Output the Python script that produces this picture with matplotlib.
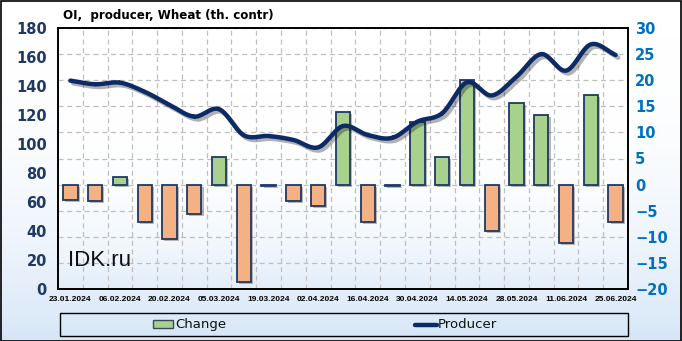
import numpy as np
import matplotlib
matplotlib.use('Agg')
import matplotlib.pyplot as plt
from matplotlib.patches import Rectangle
from matplotlib.lines import Line2D
import matplotlib.patheffects as pe

# Weekly dates (one label every other week)
dates = ['23.01.2024', '30.01.2024', '06.02.2024', '13.02.2024', '20.02.2024',
         '27.02.2024', '05.03.2024', '12.03.2024', '19.03.2024', '26.03.2024',
         '02.04.2024', '09.04.2024', '16.04.2024', '23.04.2024', '30.04.2024',
         '07.05.2024', '14.05.2024', '21.05.2024', '28.05.2024', '04.06.2024',
         '11.06.2024', '18.06.2024', '25.06.2024']

# Producer open interest, left axis
producer = [143.7, 141.2, 142.3, 136.0, 127.0, 118.9, 124.0, 106.0, 105.5, 102.8,
            97.7, 112.4, 106.2, 104.3, 115.4, 121.2, 142.5, 133.5, 146.4, 162.0,
            150.6, 168.7, 161.4]

# Weekly change, right axis
change = [-3.0, -3.2, 1.4, -7.2, -10.4, -5.7, 5.3, -18.7, -0.2, -3.2,
          -4.1, 13.9, -7.2, -0.3, 12.0, 5.3, 20.1, -8.8, 15.6, 13.3,
          -11.1, 17.2, -7.2]

W, H = 682, 341
fig = plt.figure(figsize=(W / 100, H / 100), dpi=100)

# background gradient for the whole figure
bg = fig.add_axes([0, 0, 1, 1], zorder=-10)
grad = np.linspace(0, 1, 256).reshape(-1, 1) ** 2.5
bg.imshow(grad, aspect='auto', cmap=matplotlib.colors.LinearSegmentedColormap.from_list(
    'bg', ['#ffffff', '#d6e6f7']), extent=[0, 1, 1, 0])
bg.set_axis_off()
fig.patches.append(Rectangle((0.5 / W, 0.5 / H), 1 - 1.5 / W, 1 - 1.5 / H,
                             transform=fig.transFigure, fill=False,
                             edgecolor='black', linewidth=1.2, zorder=5))

# main axes
x0, x1, y0, y1 = 58, 628, 28, 289
ax2 = fig.add_axes([x0 / W, 1 - y1 / H, (x1 - x0) / W, (y1 - y0) / H])
ax = ax2.twinx()
ax2.set_zorder(1)
ax.set_zorder(2)
ax.patch.set_visible(False)

n = len(dates)
x = np.arange(n)

# plot area gradient
ax2.imshow(np.linspace(0, 1, 256).reshape(-1, 1) ** 4, aspect='auto',
           cmap=matplotlib.colors.LinearSegmentedColormap.from_list('pa', ['#ffffff', '#e2eefa']),
           extent=[-0.5, n - 0.5, -20, 30], zorder=0)

# bars (right axis)
colors = ['#a9d18e' if v >= 0 else '#f4b183' for v in change]
ax2.bar(x, change, width=0.58, color=colors, edgecolor='#1f3864', linewidth=1.3, zorder=3,
        path_effects=[pe.SimplePatchShadow(offset=(1.5, -1.5), alpha=0.35), pe.Normal()])
ax2.set_ylim(-20, 30)
ax2.set_yticks(range(-20, 31, 5))
ax2.set_xlim(-0.5, n - 0.5)
ax2.yaxis.tick_right()
ax2.tick_params(axis='y', colors='#0070c0', labelsize=10.5, length=0, pad=5)
for t in ax2.get_yticklabels():
    t.set_fontweight('bold')
ax2.grid(axis='y', color='#bfbfbf', linestyle=(0, (4, 3)), linewidth=0.9, zorder=1)
for b in np.arange(0.5, n - 1, 1):
    ax2.axvline(b, color='#bfbfbf', linestyle=(0, (4, 3)), linewidth=0.9, zorder=1)

# smooth producer line (Catmull-Rom through the points)
p = np.array(producer)
pp = np.concatenate([[2 * p[0] - p[1]], p, [2 * p[-1] - p[-2]]])
xs, ys = [], []
for i in range(n - 1):
    t = np.linspace(0, 1, 20)
    P0, P1, P2, P3 = pp[i:i + 4]
    ys.append(0.5 * ((2 * P1) + (-P0 + P2) * t + (2 * P0 - 5 * P1 + 4 * P2 - P3) * t ** 2
                     + (-P0 + 3 * P1 - 3 * P2 + P3) * t ** 3))
    xs.append(i + t)
ax.plot(np.concatenate(xs), np.concatenate(ys), color='#0b2a66', linewidth=3.2,
        solid_capstyle='round', zorder=4,
        path_effects=[pe.SimpleLineShadow(offset=(2, -2), alpha=0.3), pe.Normal()])
ax.set_ylim(0, 180)
ax.set_yticks(range(0, 181, 20))
ax.yaxis.tick_left()
ax.tick_params(axis='y', colors='#1f3864', labelsize=10.5, length=0, pad=8)
for t in ax.get_yticklabels():
    t.set_fontweight('bold')

ax2.set_xticks(x[::2])
ax2.set_xticklabels(dates[::2], fontsize=6, fontweight='bold', family='Liberation Sans')
ax2.tick_params(axis='x', length=0, pad=5)
for s in ['top', 'right', 'left', 'bottom']:
    ax2.spines[s].set_linewidth(1.2)
    ax.spines[s].set_linewidth(1.2)

ax.text(0.018, 0.09, 'IDK.ru', transform=ax.transAxes, fontsize=16, color='#111111',
        family='Liberation Sans', zorder=6)

fig.text(63 / W, 1 - 15 / H, 'OI,  producer, Wheat (th. contr)', fontsize=8.6,
         fontweight='bold', ha='left', va='center')

# legend box, drawn by hand to match the placement
fig.patches.append(Rectangle((60 / W, 1 - 336 / H), 568 / W, 23 / H, transform=fig.transFigure,
                             fill=False, edgecolor='black', linewidth=1, zorder=5))
fig.patches.append(Rectangle((153 / W, 1 - 328 / H), 20 / W, 8 / H, transform=fig.transFigure,
                             facecolor='#a9d18e', edgecolor='#3a4a5a', linewidth=1, zorder=5))
fig.lines.append(Line2D([415 / W, 437 / W], [1 - 324.5 / H] * 2, transform=fig.transFigure,
                        color='#0b2a66', linewidth=3.2, solid_capstyle='round'))
fig.text(175 / W, 1 - 324.5 / H, 'Change', fontsize=9.5, va='center', ha='left',
         color='#111111')
fig.text(438 / W, 1 - 324.5 / H, 'Producer', fontsize=9.5, va='center', ha='left',
         color='#111111')

fig.savefig('out.png', dpi=100)
